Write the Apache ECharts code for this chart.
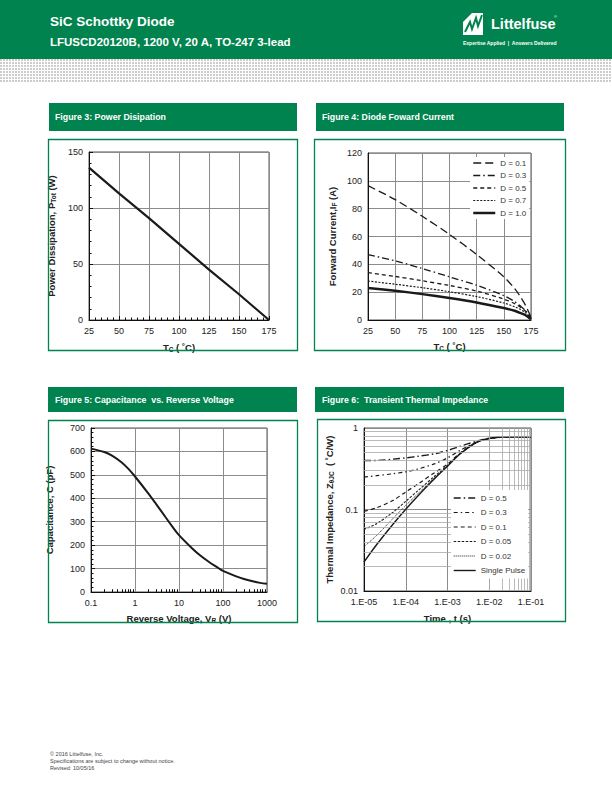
<!DOCTYPE html>
<html><head><meta charset="utf-8">
<script src="https://cdn.jsdelivr.net/npm/echarts@6/dist/echarts.min.js"></script>
<style>
html,body{margin:0;padding:0;background:#fff;}
#stripe{position:absolute;left:0;top:59px;width:612px;height:24px;
background-image: repeating-linear-gradient(0deg, #fff 0 1px, transparent 1px 3px), repeating-linear-gradient(90deg, #cdcdcd 0 2px, #fff 2px 3px);}
#chart{position:absolute;left:0;top:0;width:612px;height:792px;}
</style></head><body>
<div id="stripe"></div><div id="chart"></div>
<script>
// ---------- Figure 3: Power Dissipation ----------
const tc3 = [25, 50, 75, 100, 125, 150, 175];
const ptot3 = [136, 113, 91, 68, 45, 23, 0];

// ---------- Figure 4: Diode Forward Current ----------
const tc4 = [25, 50, 75, 100, 125, 150, 160, 165, 170, 175];
const if4_D01 = [96.5, 86.5, 74.5, 61.5, 47, 31, 22.5, 17, 10.5, 2];
const if4_D03 = [47, 42.5, 37, 31, 25, 17.5, 13.2, 10.2, 6.8, 1.5];
const if4_D05 = [34, 31.3, 28.2, 24.8, 20.8, 15, 11.8, 9.4, 6.3, 1];
const if4_D07 = [28, 25.7, 23.2, 20.3, 16.8, 12.2, 9.5, 7.7, 5.2, 1];
const if4_D10 = [23, 21, 18.6, 15.8, 12.6, 8.6, 6.6, 5.1, 3.4, 0.5];
const legend4 = ['D = 0.1', 'D = 0.3', 'D = 0.5', 'D = 0.7', 'D = 1.0'];

// ---------- Figure 5: Capacitance vs Reverse Voltage ----------
const vr5 = [0.1, 0.2, 0.3, 0.5, 0.7, 1, 2, 3, 5, 7, 10, 20, 30, 50, 70, 100, 200, 300, 500, 700, 1000];
const cap5 = [612, 597.5, 582, 553, 526.5, 493, 421, 376, 318, 280, 243, 186, 157, 126, 108.5, 90, 66.5, 55.5, 44.5, 39, 35];
const xLabels5 = ['0.1', '1', '10', '100', '1000'];

// ---------- Figure 6: Transient Thermal Impedance ----------
const t6 = [1e-5, 2e-5, 5e-5, 1e-4, 2e-4, 5e-4, 1e-3, 2e-3, 5e-3, 1e-2, 2e-2, 5e-2, 1e-1];
const z6_D05 = [0.40, 0.40, 0.415, 0.43, 0.45, 0.484, 0.53, 0.595, 0.69, 0.75, 0.775, 0.78, 0.78];
const z6_D03 = [0.25, 0.26, 0.275, 0.29, 0.315, 0.365, 0.43, 0.53, 0.675, 0.745, 0.775, 0.78, 0.78];
const z6_D01 = [0.095, 0.105, 0.13, 0.164, 0.207, 0.285, 0.36, 0.495, 0.67, 0.742, 0.773, 0.78, 0.78];
const z6_D005 = [0.057, 0.067, 0.093, 0.126, 0.172, 0.258, 0.348, 0.485, 0.668, 0.741, 0.773, 0.78, 0.78];
const z6_D002 = [0.035, 0.048, 0.078, 0.112, 0.158, 0.248, 0.343, 0.481, 0.668, 0.741, 0.773, 0.78, 0.78];
const z6_SP = [0.0227, 0.0369, 0.0664, 0.1007, 0.1486, 0.2415, 0.339, 0.479, 0.668, 0.741, 0.773, 0.78, 0.78];
const legend6 = ['D = 0.5', 'D = 0.3', 'D = 0.1', 'D = 0.05', 'D = 0.02', 'Single Pulse'];
const xLabels6 = ['1.E-05', '1.E-04', '1.E-03', '1.E-02', '1.E-01'];
const yLabels6 = ['0.01', '0.1', '1'];

// log minor steps inside each decade
const logSteps = [2, 3, 4, 5, 6, 7, 8, 9];

const GREEN = '#00834e';
const INK = '#1a1a1a';
const FONT = 'Liberation Sans, Arial, sans-serif';
const GRIDC = '#8c8c8c';

const pairs = (xs, ys) => xs.map((x, i) => [x, ys[i]]);
const decadesMinor = (decs) => decs.flatMap(d => logSteps.map(s => d * s));

const nameRich = {
  a: {fontSize: 9.5, fontWeight: 'bold', color: '#222', fontFamily: FONT, lineHeight: 12},
  s: {fontSize: 6.5, fontWeight: 'bold', color: '#222', fontFamily: FONT, lineHeight: 7, verticalAlign: 'bottom'}
};
const axLabel = {fontSize: 9, color: '#222', fontFamily: FONT, margin: 6};
const axLine = {show: true, lineStyle: {color: '#111', width: 1}};
const split = {show: true, lineStyle: {color: GRIDC, width: 1}};

function baseAxis(o) {
  return Object.assign({
    axisLine: axLine,
    axisTick: {show: false},
    splitLine: split,
    axisLabel: axLabel,
    nameLocation: 'middle',
    nameTextStyle: {rich: nameRich}
  }, o);
}

const grids = [
  {left: 89, top: 152, width: 180, height: 168},
  {left: 368, top: 153, width: 163, height: 167},
  {left: 91, top: 428, width: 176, height: 164},
  {left: 364, top: 428, width: 167, height: 163}
].map(g => Object.assign({show: true, borderColor: '#555', borderWidth: 1, containLabel: false}, g));

const xAxes = [
  baseAxis({gridIndex: 0, type: 'value', min: 25, max: 175, interval: 25,
    axisTick: {show: true, inside: true, length: 4, lineStyle: {color: '#111'}},
    minorTick: {show: true, splitNumber: 5, length: 2.5, lineStyle: {color: '#111'}},
    name: '{a|T}{s|C}{a| ( ˚C)}', nameGap: 21}),
  baseAxis({gridIndex: 1, type: 'value', min: 25, max: 175, interval: 25,
    name: '{a|T}{s|C}{a| ( ˚C)}', nameGap: 20}),
  baseAxis({gridIndex: 2, type: 'log', logBase: 10, min: 0.1, max: 1000,
    axisLabel: Object.assign({}, axLabel, {formatter: v => xLabels5[Math.round(Math.log10(v)) + 1]}),
    name: '{a|Reverse Voltage, V}{s|R}{a| (V)}', nameGap: 20}),
  baseAxis({gridIndex: 3, type: 'log', logBase: 10, min: 1e-5, max: 0.1,
    axisLabel: Object.assign({}, axLabel, {formatter: v => xLabels6[Math.round(Math.log10(v)) + 5]}),
    name: '{a|Time , t (s)}', nameGap: 21})
];
const yAxes = [
  baseAxis({gridIndex: 0, type: 'value', min: 0, max: 150, interval: 50,
    axisTick: {show: true, inside: true, length: 4, lineStyle: {color: '#111'}},
    minorTick: {show: true, splitNumber: 5, length: 2.5, lineStyle: {color: '#111'}},
    name: '{a|Power Dissipation, P}{s|Tot}{a| (W)}', nameGap: 32}),
  baseAxis({gridIndex: 1, type: 'value', min: 0, max: 120, interval: 20,
    name: '{a|Forward Current,I}{s|F}{a| (A)}', nameGap: 30}),
  baseAxis({gridIndex: 2, type: 'value', min: 0, max: 700, interval: 100,
    axisTick: {show: true, inside: true, length: 4, lineStyle: {color: '#111'}},
    minorTick: {show: true, splitNumber: 5, length: 2.5, lineStyle: {color: '#111'}},
    name: '{a|Capacitance, C (pF)}', nameGap: 36}),
  baseAxis({gridIndex: 3, type: 'log', logBase: 10, min: 0.01, max: 1,
    axisLabel: Object.assign({}, axLabel, {formatter: v => yLabels6[Math.round(Math.log10(v)) + 2]}),
    name: '{a|Thermal Impedance, Z}{s|θJC}{a|  ( ˚C/W)}', nameGap: 29})
];

function lineSeries(id, gi, xs, ys, style, smooth) {
  return {
    id: id, name: id, type: 'line', xAxisIndex: gi, yAxisIndex: gi,
    data: pairs(xs, ys), symbol: 'none', showSymbol: false, silent: true,
    smooth: smooth === undefined ? 0.3 : smooth,
    itemStyle: {color: INK},
    lineStyle: Object.assign({color: INK, width: 1.3, type: 'solid', cap: 'butt'}, style),
    z: 3
  };
}

const style4 = {
  f4a: {type: [8, 4], width: 1.3},
  f4b: {type: [7, 3, 1.5, 3], width: 1.3},
  f4c: {type: [4, 3], width: 1.3},
  f4d: {type: [2, 1.5], width: 1.2},
  f4e: {type: 'solid', width: 2.5}
};
const style6 = {
  f6a: {type: [7, 3, 1.5, 3], width: 1.4},
  f6b: {type: [4, 3, 1.5, 3], width: 1.2},
  f6c: {type: [4, 3], width: 1.2},
  f6d: {type: [2.5, 1.5], width: 1.1},
  f6e: {type: [1, 1], width: 1},
  f6f: {type: 'solid', width: 1.4}
};
const ids4 = ['f4a', 'f4b', 'f4c', 'f4d', 'f4e'];
const ids6 = ['f6a', 'f6b', 'f6c', 'f6d', 'f6e', 'f6f'];
const data4 = [if4_D01, if4_D03, if4_D05, if4_D07, if4_D10];
const data6 = [z6_D05, z6_D03, z6_D01, z6_D005, z6_D002, z6_SP];
const labelMap = {};
ids4.forEach((id, i) => labelMap[id] = legend4[i]);
ids6.forEach((id, i) => labelMap[id] = legend6[i]);

const mlBase = {silent: true, symbol: ['none', 'none'], label: {show: false}, animation: false,
  emphasis: {disabled: true}};

const series = [
  lineSeries('f3', 0, tc3, ptot3, {width: 2.2}, false),
  ...ids4.map((id, i) => lineSeries(id, 1, tc4, data4[i], style4[id])),
  lineSeries('f5', 2, vr5, cap5, {width: 2}),
  // minor log ticks on figure 5 x axis
  {type: 'line', xAxisIndex: 2, yAxisIndex: 2, data: [[0.1, 0]], symbol: 'none', silent: true,
    lineStyle: {opacity: 0}, z: 1,
    markLine: Object.assign({}, mlBase, {
      lineStyle: {color: '#111', width: 1, type: 'solid'},
      data: decadesMinor([0.1, 1, 10, 100]).map(v => [{coord: [v, 0]}, {coord: [v, 12]}])
    })},
  // minor log gridlines on figure 6
  {type: 'line', xAxisIndex: 3, yAxisIndex: 3, data: [[1e-5, 0.01]], symbol: 'none', silent: true,
    lineStyle: {opacity: 0}, z: 1,
    markLine: Object.assign({}, mlBase, {
      lineStyle: {color: '#a8a8a8', width: 0.8, type: 'solid'},
      data: decadesMinor([1e-5, 1e-4, 1e-3, 1e-2]).map(v => ({xAxis: v}))
        .concat(decadesMinor([0.01, 0.1]).map(v => ({yAxis: v})))
    })},
  ...ids6.map((id, i) => lineSeries(id, 3, t6, data6[i], style6[id]))
];

const legTxt = {fontSize: 8, color: '#333', fontFamily: FONT};
const hiddenSym = {color: 'rgba(0,0,0,0)', opacity: 0, borderWidth: 0};
const legends = [
  {orient: 'vertical', left: 470, top: 157, itemWidth: 22, itemHeight: 8, itemGap: 4.5, z: 10,
   padding: [2, 3, 2, 2], backgroundColor: '#fff', selectedMode: false, textStyle: legTxt,
   formatter: n => labelMap[n],
   data: ids4.map(id => ({name: id, itemStyle: hiddenSym, lineStyle: Object.assign({color: INK}, style4[id])}))},
  {orient: 'vertical', left: 451, top: 490, itemWidth: 22, itemHeight: 8, itemGap: 6.5, z: 10,
   padding: [4, 3, 4, 2], backgroundColor: '#fff', selectedMode: false, textStyle: legTxt,
   formatter: n => labelMap[n],
   data: ids6.map(id => ({name: id, itemStyle: hiddenSym, lineStyle: Object.assign({color: INK}, style6[id])}))}
];

function txt(x, y, text, font, fill, extra) {
  return Object.assign({type: 'text', silent: true, z: 10,
    style: {x: x, y: y, text: text, font: font, fill: fill || '#fff',
      align: 'left', verticalAlign: 'middle', textAlign: 'left', textVerticalAlign: 'middle'}}, extra || {});
}
function rect(x, y, w, h, style) {
  return {type: 'rect', silent: true, z: 5, shape: {x: x, y: y, width: w, height: h}, style: style};
}

const titleFont = 'bold 8.8px ' + FONT;
const graphics = [
  rect(0, 0, 612, 59, {fill: GREEN}),
  txt(50, 21, 'SiC Schottky Diode', 'bold 13.5px ' + FONT),
  txt(50, 42, 'LFUSCD20120B, 1200 V, 20 A, TO-247 3-lead', 'bold 11.5px ' + FONT),
  // logo
  rect(463, 13, 20, 22, {fill: '#fff'}),
  {type: 'polyline', silent: true, z: 11, shape: {points: [[465, 32], [470, 22], [472, 29], [476, 18], [478, 26], [482, 15]]},
   style: {stroke: GREEN, lineWidth: 2, fill: 'none'}},
  {type: 'polygon', silent: true, z: 11, shape: {points: [[463, 13], [472, 13], [463, 22]]}, style: {fill: GREEN}},
  txt(491, 24, 'Littelfuse', 'bold 14.5px ' + FONT),
  txt(554, 16, '®', '4px ' + FONT),
  txt(463, 43, 'Expertise Applied  |  Answers Delivered', 'bold 5px ' + FONT),
  // figure title boxes
  rect(49, 103, 248, 28, {fill: GREEN}),
  txt(55, 117, 'Figure 3: Power Disipation', titleFont),
  rect(316, 103, 248, 28, {fill: GREEN}),
  txt(322, 117, 'Figure 4: Diode Foward Current', titleFont),
  rect(48, 387, 249, 25, {fill: GREEN}),
  txt(55, 399.5, 'Figure 5: Capacitance  vs. Reverse Voltage', titleFont),
  rect(315, 387, 249, 25, {fill: GREEN}),
  txt(322, 399.5, 'Figure 6:  Transient Thermal Impedance', titleFont),
  // chart frames
  rect(48.5, 139.5, 249, 211, {fill: 'none', stroke: GREEN, lineWidth: 1.3}),
  rect(314.5, 139.5, 251, 211, {fill: 'none', stroke: GREEN, lineWidth: 1.3}),
  rect(48.5, 420.5, 249, 202, {fill: 'none', stroke: GREEN, lineWidth: 1.3}),
  rect(317.5, 419.5, 248, 202, {fill: 'none', stroke: GREEN, lineWidth: 1.3}),
  // footer
  txt(50, 754, '© 2016 Littelfuse, Inc.', '5.5px ' + FONT, '#444'),
  txt(50, 761, 'Specifications are subject to change without notice.', '5.5px ' + FONT, '#444'),
  txt(50, 768, 'Revised: 10/05/16', '5.5px ' + FONT, '#444')
];

const chart = echarts.init(document.getElementById('chart'), null, {renderer: 'svg', width: 612, height: 792});
chart.setOption({
  animation: false,
  backgroundColor: 'transparent',
  textStyle: {fontFamily: FONT},
  grid: grids,
  xAxis: xAxes,
  yAxis: yAxes,
  legend: legends,
  series: series,
  graphic: {elements: graphics}
});
</script></body></html>
